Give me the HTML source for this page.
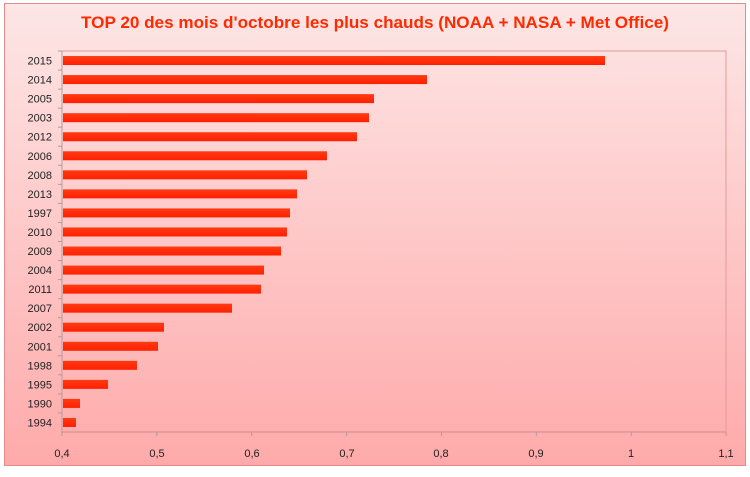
<!DOCTYPE html>
<html><head><meta charset="utf-8"><style>
html,body{margin:0;padding:0;background:#fff;}
</style></head><body>
<svg width="750" height="472" xmlns="http://www.w3.org/2000/svg" font-family="Liberation Sans, sans-serif">
<defs>
<linearGradient id="g" x1="0" y1="0" x2="0" y2="1">
<stop offset="0" stop-color="#fde6e6"/><stop offset="1" stop-color="#ffaaaa"/>
</linearGradient>
<linearGradient id="b" x1="0" y1="0" x2="0" y2="1">
<stop offset="0" stop-color="#ff3a14"/><stop offset="1" stop-color="#ff2000"/>
</linearGradient>
</defs>
<rect x="4.5" y="3.5" width="741" height="462" fill="url(#g)" stroke="#e88a8a"/>
<rect x="62" y="51" width="664" height="381" fill="none" stroke="#e29a9a"/>
<line x1="62" y1="51" x2="62" y2="432" stroke="#b89a9a"/>
<line x1="62" y1="432" x2="726" y2="432" stroke="#c79090"/>
<text x="375" y="28" text-anchor="middle" font-size="17" font-weight="bold" fill="#ff2a00" textLength="588" lengthAdjust="spacingAndGlyphs">TOP 20 des mois d'octobre les plus chauds (NOAA + NASA + Met Office)</text>
<g fill="url(#b)" id="bars"></g>
<g font-size="11" fill="#222" id="labels"></g>
<g font-size="11" fill="#222" text-anchor="middle">
<text x="62" y="457">0,4</text><text x="157" y="457">0,5</text><text x="252" y="457">0,6</text><text x="347" y="457">0,7</text><text x="441" y="457">0,8</text><text x="536" y="457">0,9</text><text x="631" y="457">1</text><text x="726" y="457">1,1</text>
</g>
<g stroke="#b09a9a" id="ticks"></g>
</svg>
<script>
var ys=["2015","2014","2005","2003","2012","2006","2008","2013","1997","2010","2009","2004","2011","2007","2002","2001","1998","1995","1990","1994"];
var ends=[605,427,374,369,357,327,307,297,290,287,281,264,261,232,164,158,137,108,80,76];
var ns="http://www.w3.org/2000/svg",b=document.getElementById("bars"),l=document.getElementById("labels"),t=document.getElementById("ticks");
var step=381/20;
for(var i=0;i<20;i++){
 var cy=51+step*(i+0.5);
 var r=document.createElementNS(ns,"rect");r.setAttribute("x",63);r.setAttribute("y",cy-4.5);r.setAttribute("width",ends[i]-63);r.setAttribute("height",9);b.appendChild(r);
 var tx=document.createElementNS(ns,"text");tx.setAttribute("x",52);tx.setAttribute("y",cy+4);tx.setAttribute("text-anchor","end");tx.textContent=ys[i];l.appendChild(tx);
 var ln=document.createElementNS(ns,"line");ln.setAttribute("x1",58);ln.setAttribute("x2",62);ln.setAttribute("y1",51+step*i);ln.setAttribute("y2",51+step*i);t.appendChild(ln);
}
for(var k=0;k<8;k++){var x=62+k*94.86;var ln=document.createElementNS(ns,"line");ln.setAttribute("x1",x);ln.setAttribute("x2",x);ln.setAttribute("y1",432);ln.setAttribute("y2",436);t.appendChild(ln);}
</script>
</body></html>
